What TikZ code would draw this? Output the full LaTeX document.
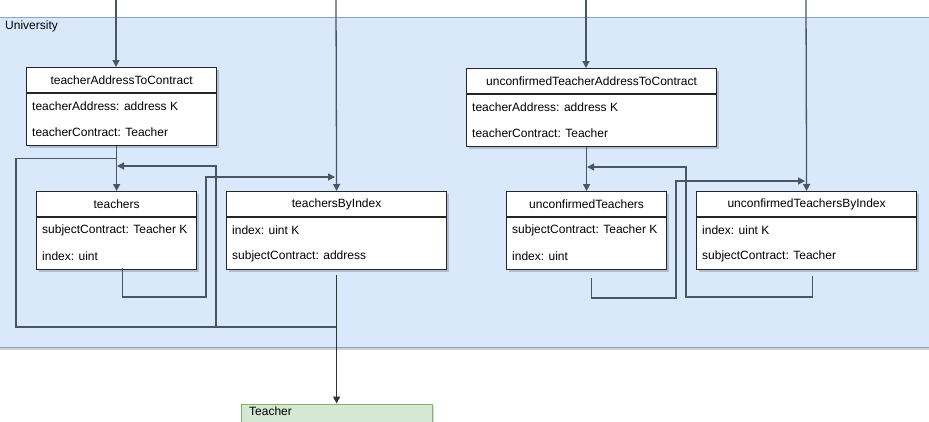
\documentclass[tikz,border=0pt]{standalone}
\usepackage{fontspec}
\setmainfont{Liberation Sans}
\usetikzlibrary{arrows.meta,shadows}

\definecolor{poolfill}{HTML}{DAE8FC}
\definecolor{poolline}{HTML}{8DA3C8}
\definecolor{wirecol}{HTML}{4A5565}
\definecolor{entfill}{HTML}{D5E8D4}
\definecolor{entline}{HTML}{82B366}

\tikzset{
  txt/.style={inner sep=0pt, font=\fontsize{12pt}{14pt}\selectfont, text=black},
  pool/.style={draw=poolline, fill=poolfill, line width=1.2pt, inner sep=0pt,
    drop shadow={shadow xshift=0pt, shadow yshift=-2.5pt, fill=black, opacity=0.18}},
  clsbox/.style={draw=black!85, fill=white, line width=1.2pt, inner sep=0pt,
    minimum height=78pt,
    drop shadow={shadow xshift=2pt, shadow yshift=-2pt, fill=black, opacity=0.18}},
  clsrule/.style={draw=black!85, line width=1.2pt},
  entbox/.style={draw=entline, fill=entfill, line width=1.2pt, inner sep=0pt,
    drop shadow={shadow xshift=2pt, shadow yshift=-2pt, fill=black, opacity=0.15}},
  wire/.style={draw=wirecol, line width=1.3pt},
  arr/.style={wire, -{Triangle[length=7pt,width=7pt]}},
}

% a mapping box: title compartment and two field rows
\newcommand\classbox[7]{%
  \node[clsbox, minimum width=#4, anchor=north west] (#1) at (#2,#3) {};
  \draw[clsrule] ([yshift=-26pt]#1.north west) -- ([yshift=-26pt]#1.north east);
  \node[txt] (#1-t) at ([yshift=-13pt]#1.north) {#5};
  \node[txt, anchor=west] (#1-a) at ([xshift=6pt,yshift=-39.5pt]#1.north west) {#6};
  \node[txt, anchor=west] (#1-b) at ([xshift=6pt,yshift=-65.5pt]#1.north west) {#7};
}

\begin{document}
\begin{tikzpicture}[x=1pt,y=-1pt]
\useasboundingbox (0,0) rectangle (929,421);
\clip (0,0) rectangle (929,421);

% container
\node[pool, anchor=north west, minimum width=945pt, minimum height=330pt] (univ) at (-8,16.5) {};
\node[txt, anchor=west] (univ-label) at (5,26) {University};

% mappings
\classbox{tatc}{26}{67}{190pt}{teacherAddressToContract}{teacherAddress: address K}{teacherContract: Teacher}
\classbox{teachers}{36}{191}{160pt}{teachers}{subjectContract: Teacher K}{index: uint}
\classbox{tbi}{226}{191}{220pt}{teachersByIndex}{index: uint K}{subjectContract: address}
\classbox{utatc}{466}{68}{250pt}{unconfirmedTeacherAddressToContract}{teacherAddress: address K}{teacherContract: Teacher}
\classbox{uteachers}{506}{191}{160pt}{unconfirmedTeachers}{subjectContract: Teacher K}{index: uint}
\classbox{utbi}{696}{191}{220pt}{unconfirmedTeachersByIndex}{index: uint K}{subjectContract: Teacher}

% contract type below the container
\node[entbox, anchor=north west, minimum width=191pt, minimum height=40pt] (teacher) at (240.5,403.5) {};
\node[txt, anchor=west] (teacher-t) at ([xshift=8.5pt,yshift=-8pt]teacher.north west) {Teacher};

% free ends and bends
\coordinate (in1) at (116,0);
\coordinate (in2) at (336,0);
\coordinate (in3) at (586,0);
\coordinate (in4) at (806,0);
\coordinate (bus) at (336,327);
\coordinate (lcorner) at (16,327);
\coordinate (upA) at (216,166);
\coordinate (hitA) at (117,166);
\coordinate (dropB) at (206,297);
\coordinate (hitB) at (335,177);
\coordinate (dropC) at (676,298);
\coordinate (hitC) at (805,181);
\coordinate (dropD) at (686,297);
\coordinate (hitD) at (587,167);

% incoming references
\draw[arr] (in1) -- (in1 |- tatc.north);
\draw[arr] (in2) -- (tbi.north);
\draw[arr] (in3) -- (in3 |- utatc.north);
\draw[arr] (in4) -- (utbi.north);

% left group
\draw[arr] (teachers.north |- tatc.south) -- (teachers.north);
\draw[wire] (teachers.north |- tatc.south) -- ++(0,12) -| (lcorner) -- (bus);
\draw[arr] (bus) -| (upA) -- (hitA);
\draw[arr] ([xshift=6pt,yshift=2pt]teachers.south) |- (dropB) |- (hitB);
\draw[arr, line width=1.6pt, draw=black!80] ([yshift=-5pt]tbi.south) -- (teacher.north);

% right group
\draw[arr] (uteachers.north |- utatc.south) -- (uteachers.north);
\draw[arr] ([xshift=5pt,yshift=-8pt]uteachers.south) |- (dropC) |- (hitC);
\draw[arr] ([xshift=6pt,yshift=-6pt]utbi.south) |- (dropD) |- (hitD);
\end{tikzpicture}
\end{document}
